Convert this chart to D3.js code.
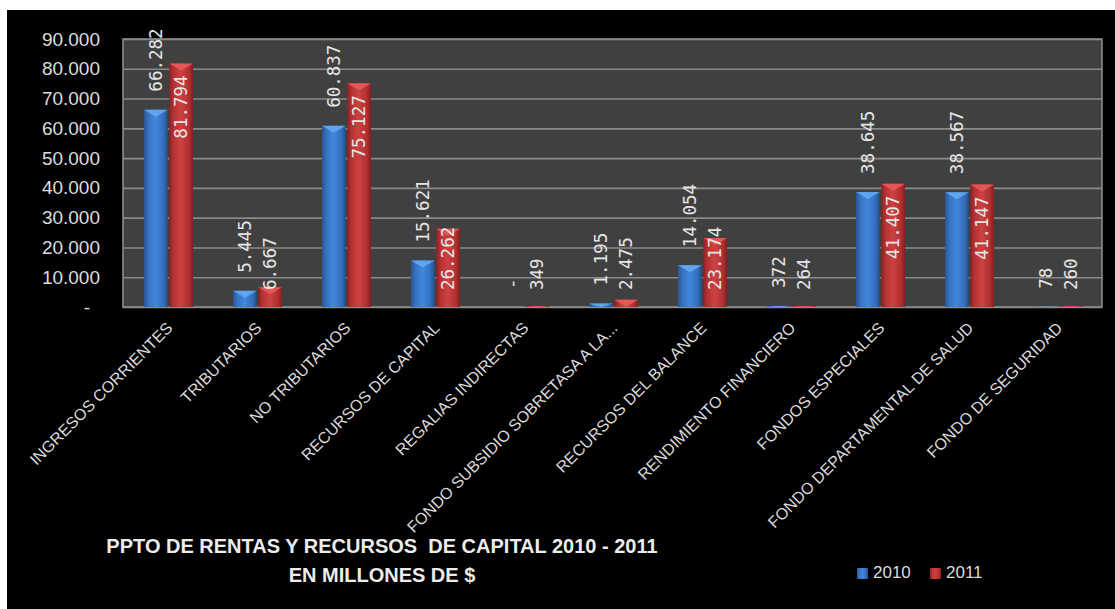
<!DOCTYPE html>
<html>
<head>
<meta charset="utf-8">
<script src="https://cdn.jsdelivr.net/npm/d3@7"></script>
<style>
  html, body { margin: 0; padding: 0; background: #ffffff; }
  svg { display: block; }
</style>
</head>
<body>
<svg id="chart" width="1115" height="609"></svg>
<script>
const categories = [
  "INGRESOS CORRIENTES", "TRIBUTARIOS", "NO TRIBUTARIOS", "RECURSOS DE CAPITAL",
  "REGALIAS INDIRECTAS", "FONDO SUBSIDIO SOBRETASA A LA...", "RECURSOS DEL BALANCE",
  "RENDIMIENTO FINANCIERO", "FONDOS ESPECIALES", "FONDO DEPARTAMENTAL DE SALUD",
  "FONDO DE SEGURIDAD"
];
const series = ["2010", "2011"];
const values2010 = [66282, 5445, 60837, 15621, 0, 1195, 14054, 372, 38645, 38567, 78];
const values2011 = [81794, 6667, 75127, 26262, 349, 2475, 23174, 264, 41407, 41147, 260];
const yTicks = [0, 10000, 20000, 30000, 40000, 50000, 60000, 70000, 80000, 90000];
const titleLines = ["PPTO DE RENTAS Y RECURSOS  DE CAPITAL 2010 - 2011", "EN MILLONES DE $"];

const svg = d3.select("#chart");
const W = 1115, H = 609;
const plot = { left: 123, top: 39, right: 1102, bottom: 307 };

const locale = d3.formatLocale({ decimal: ",", thousands: ".", grouping: [3], currency: ["$", ""] });
const fmt = v => v === 0 ? "-" : locale.format(",d")(v);

// background
svg.append("rect").attr("x", 7).attr("y", 10).attr("width", W - 7).attr("height", H - 10).attr("fill", "#000");

// gradients
const defs = svg.append("defs");
function grad(id, stops) {
  const g = defs.append("linearGradient").attr("id", id).attr("x1", "0").attr("x2", "1").attr("y1", "0").attr("y2", "0");
  stops.forEach(s => g.append("stop").attr("offset", s[0]).attr("stop-color", s[1]));
}
grad("g2010", [["0%", "#285591"], ["18%", "#3671bf"], ["48%", "#4287dc"], ["82%", "#346fbd"], ["100%", "#244e88"]]);
grad("g2011", [["0%", "#8a2222"], ["18%", "#b63232"], ["48%", "#cc4242"], ["82%", "#b23030"], ["100%", "#822020"]]);
const topColor = { "2010": "#62a9f2", "2011": "#e85a5a" };
const labelColor = "#e6e6e6";

const x = d3.scaleBand().domain(categories).range([plot.left, plot.right]).paddingInner(0).paddingOuter(0);
const x1 = d3.scaleBand().domain(series).range([21, 70]).paddingInner(0.06);
const y = d3.scaleLinear().domain([0, 90000]).range([plot.bottom, plot.top]);

// plot area
svg.append("rect").attr("x", plot.left).attr("y", plot.top)
  .attr("width", plot.right - plot.left).attr("height", plot.bottom - plot.top)
  .attr("fill", "#404040");

// y axis with gridlines
const yAxis = svg.append("g").attr("transform", `translate(${plot.left},0)`)
  .call(d3.axisLeft(y).tickValues(yTicks).tickSize(-(plot.right - plot.left)).tickPadding(23)
    .tickFormat(d => d === 0 ? "-" : locale.format(",.0f")(d).replace(/,/g, ".")));
yAxis.select(".domain").remove();
yAxis.selectAll(".tick line").attr("stroke", "#8a8a8a").attr("stroke-width", 1.6);
yAxis.selectAll(".tick text")
  .attr("fill", "#dcdcdc").attr("font-family", "'Liberation Sans', Arial, sans-serif")
  .attr("font-size", 19)
  .attr("dx", d => d === 0 ? -10 : 0);

// plot frame
svg.append("rect").attr("x", plot.left).attr("y", plot.top)
  .attr("width", plot.right - plot.left).attr("height", plot.bottom - plot.top)
  .attr("fill", "none").attr("stroke", "#8a8a8a").attr("stroke-width", 1.6);

const rows = categories.map((c, i) => ({ cat: c, vals: [values2010[i], values2011[i]] }));

const groups = svg.append("g").selectAll("g").data(rows).join("g")
  .attr("transform", d => `translate(${x(d.cat)},0)`);

const bars = groups.selectAll("g.bar").data(d => series.map((s, k) => ({ s, v: d.vals[k] })))
  .join("g").attr("class", "bar");

bars.append("rect")
  .attr("x", d => x1(d.s)).attr("width", x1.bandwidth())
  .attr("y", d => y(d.v)).attr("height", d => y(0) - y(d.v))
  .attr("fill", d => `url(#g${d.s})`);

bars.append("path")
  .attr("d", d => {
    const x0 = x1(d.s), w = x1.bandwidth(), t = y(d.v), h = Math.min(7, y(0) - y(d.v));
    return `M${x0},${t}L${x0 + w},${t}L${x0 + w / 2},${t + h}Z`;
  })
  .attr("fill", d => topColor[d.s]).attr("opacity", 0.9);

// data labels
bars.append("text")
  .text(d => fmt(d.v))
  .attr("font-family", "'DejaVu Sans Mono', monospace")
  .attr("font-size", 17.5)
  .attr("fill", labelColor)
  .attr("text-anchor", "start")
  .attr("dominant-baseline", "central")
  .each(function (d) {
    const len = this.getComputedTextLength();
    const cx = x1(d.s) + x1.bandwidth() / 2;
    let bottom;
    if (d.s === "2010") {
      bottom = y(d.v) - 18;
    } else {
      bottom = Math.min(y(d.v) + 12 + len, y(0) - 17);
    }
    d3.select(this).attr("transform", `translate(${cx},${bottom}) rotate(-90)`);
  });

// category labels
svg.append("g").selectAll("text").data(categories).join("text")
  .text(d => d)
  .attr("font-family", "'Liberation Sans', Arial, sans-serif")
  .attr("font-size", 16)
  .attr("fill", "#dcdcdc")
  .attr("text-anchor", "end")
  .attr("transform", d => `translate(${x(d) + x.bandwidth() / 2 + 6},${plot.bottom + 22}) rotate(-45)`);

// title
svg.append("g").selectAll("text").data(titleLines).join("text")
  .text(d => d)
  .attr("xml:space", "preserve")
  .style("white-space", "pre")
  .attr("x", 382).attr("y", (d, i) => 553 + i * 29)
  .attr("text-anchor", "middle")
  .attr("font-family", "'Liberation Sans', Arial, sans-serif")
  .attr("font-weight", "bold").attr("font-size", 20)
  .attr("fill", "#ececec");

// legend
const legend = svg.append("g").selectAll("g").data(series).join("g")
  .attr("transform", (d, i) => `translate(${857 + i * 73},568)`);
legend.append("rect").attr("width", 11).attr("height", 11).attr("fill", d => `url(#g${d})`);
legend.append("text").text(d => d).attr("x", 16).attr("y", 10)
  .attr("font-family", "'Liberation Sans', Arial, sans-serif").attr("font-size", 17)
  .attr("fill", "#dcdcdc");
</script>
</body>
</html>
